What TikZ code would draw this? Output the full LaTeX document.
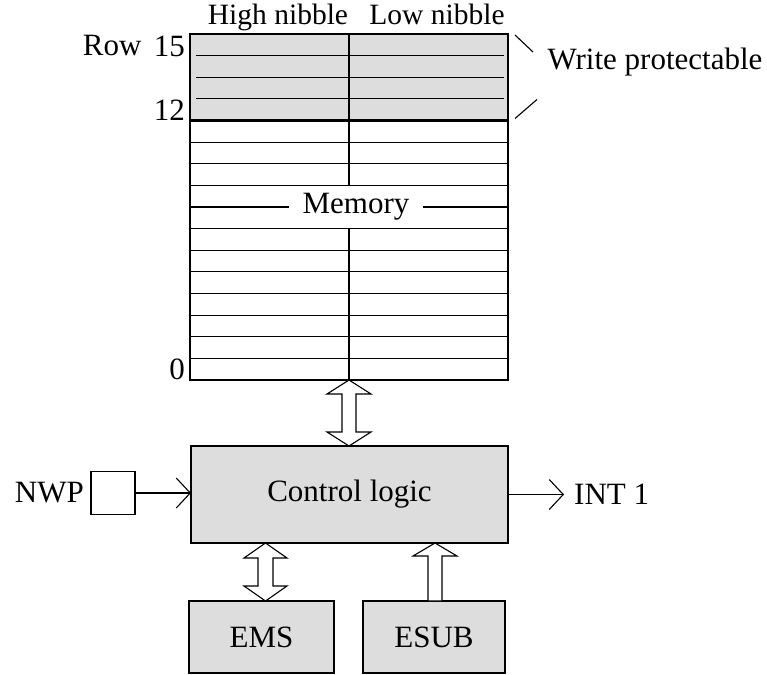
\documentclass[tikz,border=0pt]{standalone}
\usepackage{fontspec}
\setmainfont{Liberation Serif}
\usetikzlibrary{arrows.meta, positioning, calc}
\definecolor{CellGray}{RGB}{221, 221, 221}

\begin{document}
\begin{tikzpicture}[
        x=1pt, y=-1pt,
        every node/.style={font=\fontsize{31}{36}\selectfont},
        box/.style={rectangle, draw, fill=CellGray, line width=1.2pt, outer sep=0pt, align=center},
        grid/.style={line width=1.1pt},
        lbl/.style={inner sep=2pt},
        head/.style={inner sep=2pt, anchor=base, font=\fontsize{29.5}{34}\selectfont},
        arrow/.style={-{Straight Barb[length=14pt, width=30pt]}, line width=1.1pt},
        hollow/.style={draw, fill=white, line width=1.1pt, line join=miter}
    ]
    \useasboundingbox (0,0) rectangle (767,674);

    % Memory array
    \node[box, fill=white, minimum width=318pt, minimum height=346pt] (mem) at (349,207) {};
    \node[box, line width=2.4pt, minimum width=318pt, minimum height=86.5pt] (prot) at (349,77.25) {};
    \foreach \r in {1,2,3}
        \draw[grid] ($(prot.north west)+(6,\r*21.625)$) -- ($(prot.north east)+(-4,\r*21.625)$);
    \foreach \r in {5,...,15}
        \draw[grid] ($(mem.north west)+(0,\r*21.625)$) -- ($(mem.north east)+(0,\r*21.625)$);
    \draw[grid] (mem.north) -- ($(mem.north)+(0,7*21.625)$);
    \draw[grid] ($(mem.north)+(0,9*21.625)$) -- (mem.south);
    \node[fill=white, inner xsep=14pt, inner ysep=0pt] (memlbl) at ($(mem.north)+(7,8*21.625)$) {Memory};

    % Headings and row numbers
    \node[head] (high) at (278,25) {High nibble};
    \node[head] (low) at (437,25) {Low nibble};
    \node[lbl, anchor=east] (r15) at ($(mem.north west)+(-3,12)$) {15};
    \node[lbl, left=8pt of r15] (rowlbl) {Row};
    \node[lbl, anchor=east] (r12) at ($(prot.south west)+(-3,-10)$) {12};
    \node[lbl, anchor=east] (r0) at ($(mem.south west)+(-3,-11)$) {0};

    % Write protect marker
    \node[lbl] (wp) at (655,62) {Write protectable};
    \draw[grid] ($(prot.north east)+(7,1)$) -- ++(18,17);
    \draw[grid] ($(prot.south east)+(7,-2)$) -- ++(22,-19);

    % Control part
    \node[box, minimum width=317pt, minimum height=97pt] (ctrl) at (349.5,494.5) {Control logic};
    \node[box, fill=white, minimum width=44pt, minimum height=43pt] (nwp) at (113,493) {};
    \node[lbl, left=5pt of nwp] (nwplbl) {NWP};
    \node[inner xsep=10pt, inner ysep=2pt, right=56pt of ctrl] (int) {INT 1};
    \node[box, minimum width=145pt, minimum height=72pt] (ems) at (261.5,637) {EMS};
    \node[box, minimum width=142pt, minimum height=72pt] (esub) at (434,637) {ESUB};

    % Arrows
    \draw[arrow] (nwp.east) -- (nwp.east -| ctrl.west);
    \draw[arrow] (ctrl.east) -- (int.west);

    % Bus arrows
    \coordinate (busb) at (mem.south |- ctrl.north);
    \draw[hollow] (mem.south) -- ($(mem.south)+(22,14)$) -- ($(mem.south)+(7,14)$) -- ($(busb)+(7,-14)$) -- ($(busb)+(22,-14)$) -- (busb) -- ($(busb)+(-22,-14)$) -- ($(busb)+(-7,-14)$) -- ($(mem.south)+(-7,14)$) -- ($(mem.south)+(-22,14)$) -- cycle;
    \coordinate (emst) at ($(ems.north |- ctrl.south)+(4,0)$);
    \coordinate (emsb) at ($(ems.north)+(4,0)$);
    \draw[hollow] (emst) -- ($(emst)+(21.5,15)$) -- ($(emst)+(7.5,15)$) -- ($(emsb)+(7.5,-15)$) -- ($(emsb)+(21.5,-15)$) -- (emsb) -- ($(emsb)+(-21.5,-15)$) -- ($(emsb)+(-7.5,-15)$) -- ($(emst)+(-7.5,15)$) -- ($(emst)+(-21.5,15)$) -- cycle;
    \coordinate (esubt) at ($(esub.north |- ctrl.south)+(1,0)$);
    \coordinate (esubb) at ($(esub.north)+(1,0)$);
    \draw[hollow] (esubt) -- ($(esubt)+(22,13)$) -- ($(esubt)+(7,13)$) -- ($(esubb)+(7,0)$) -- ($(esubb)+(-7,0)$) -- ($(esubt)+(-7,13)$) -- ($(esubt)+(-22,13)$) -- cycle;

\end{tikzpicture}
\end{document}
